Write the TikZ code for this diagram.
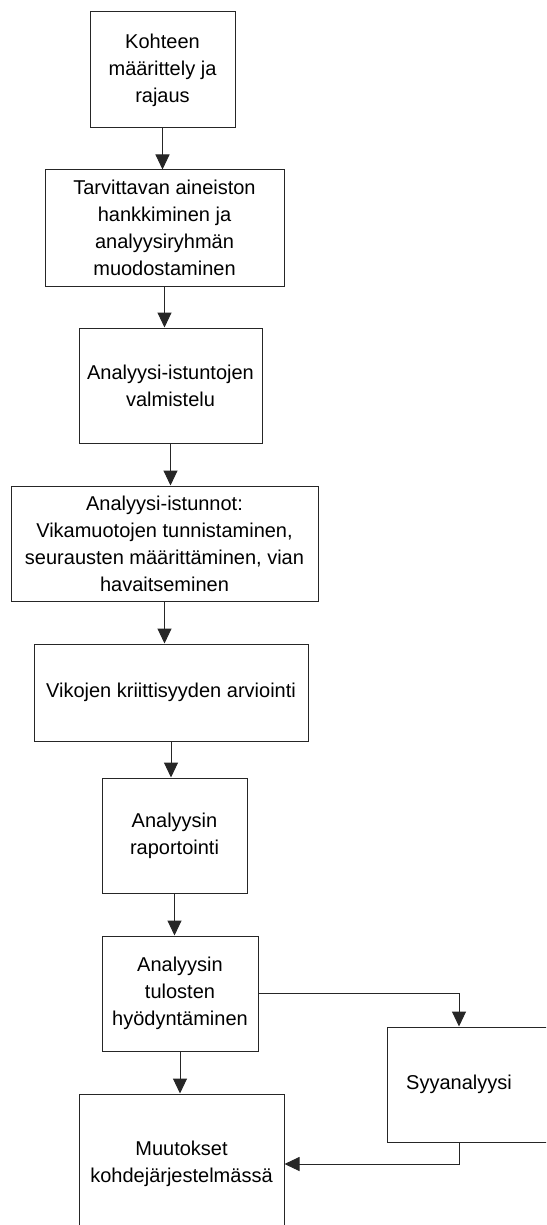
\documentclass[tikz,border=0pt]{standalone}
\usepackage{fontspec}
\setmainfont{Liberation Sans}
\usetikzlibrary{positioning,arrows.meta}

\tikzset{
	box/.style = {draw=black!85, line width=1pt, rectangle, inner sep=0pt, align=center,
		font=\fontsize{20pt}{27pt}\selectfont},
	flow/.style = {draw=black!85, line width=1pt, -{Triangle[length=15pt,width=14pt]}},
}

\begin{document}
\begin{tikzpicture}[x=1pt, y=-1pt]
	\useasboundingbox (0,0) rectangle (546,1225);
	\clip (0,0) rectangle (546,1225);

	\node [box, minimum width=145pt, minimum height=116pt] (kohde) at (162.5,70) {Kohteen\\ määrittely ja\\ rajaus};
	\node [box, minimum width=239pt, minimum height=116pt, below = 41pt of kohde, xshift=2pt] (aineisto) {Tarvittavan aineiston\\ hankkiminen ja\\ analyysiryhmän\\ muodostaminen};
	\node [box, minimum width=183pt, minimum height=115pt, below = 41pt of aineisto, xshift=6pt] (valmistelu) {Analyysi-istuntojen\\ valmistelu};
	\node [box, minimum width=307pt, minimum height=115pt, below = 42pt of valmistelu, xshift=-6pt] (istunnot) {Analyysi-istunnot:\\ Vikamuotojen tunnistaminen,\\ seurausten määrittäminen, vian\\ havaitseminen};
	\node [box, minimum width=274pt, minimum height=97pt, below = 42pt of istunnot, xshift=6.5pt] (kriittisyys) {Vikojen kriittisyyden arviointi};
	\node [box, minimum width=145pt, minimum height=115pt, below = 36pt of kriittisyys, xshift=3.5pt] (raportointi) {Analyysin\\ raportointi};
	\node [box, minimum width=156pt, minimum height=115pt, below = 42pt of raportointi, xshift=5.5pt] (tulokset) {Analyysin\\ tulosten\\ hyödyntäminen};
	\node [box, minimum width=205pt, minimum height=140pt, below = 42pt of tulokset, xshift=1.5pt] (muutokset) {Muutokset\\ kohdejärjestelmässä};
	\node [box, minimum width=178pt, minimum height=115pt, label={[font=\fontsize{20pt}{27pt}\selectfont, xshift=-17pt]center:Syyanalyysi}] (syy) at (476,1084.5) {};

	\coordinate (syyin) at ([xshift=-17pt]syy.north);
	\coordinate (syyout) at ([xshift=-17pt]syy.south);

	\draw [flow] (kohde.south) -- (kohde.south |- aineisto.north);
	\draw [flow] (aineisto.south) -- (aineisto.south |- valmistelu.north);
	\draw [flow] (valmistelu.south) -- (valmistelu.south |- istunnot.north);
	\draw [flow] (istunnot.south) -- (istunnot.south |- kriittisyys.north);
	\draw [flow] (kriittisyys.south) -- (kriittisyys.south |- raportointi.north);
	\draw [flow] (raportointi.south) -- (raportointi.south |- tulokset.north);
	\draw [flow] (tulokset.south) -- (tulokset.south |- muutokset.north);
	\draw [flow] (tulokset.east) -| (syyin);
	\draw [flow] (syyout) |- (muutokset.east);
\end{tikzpicture}
\end{document}
